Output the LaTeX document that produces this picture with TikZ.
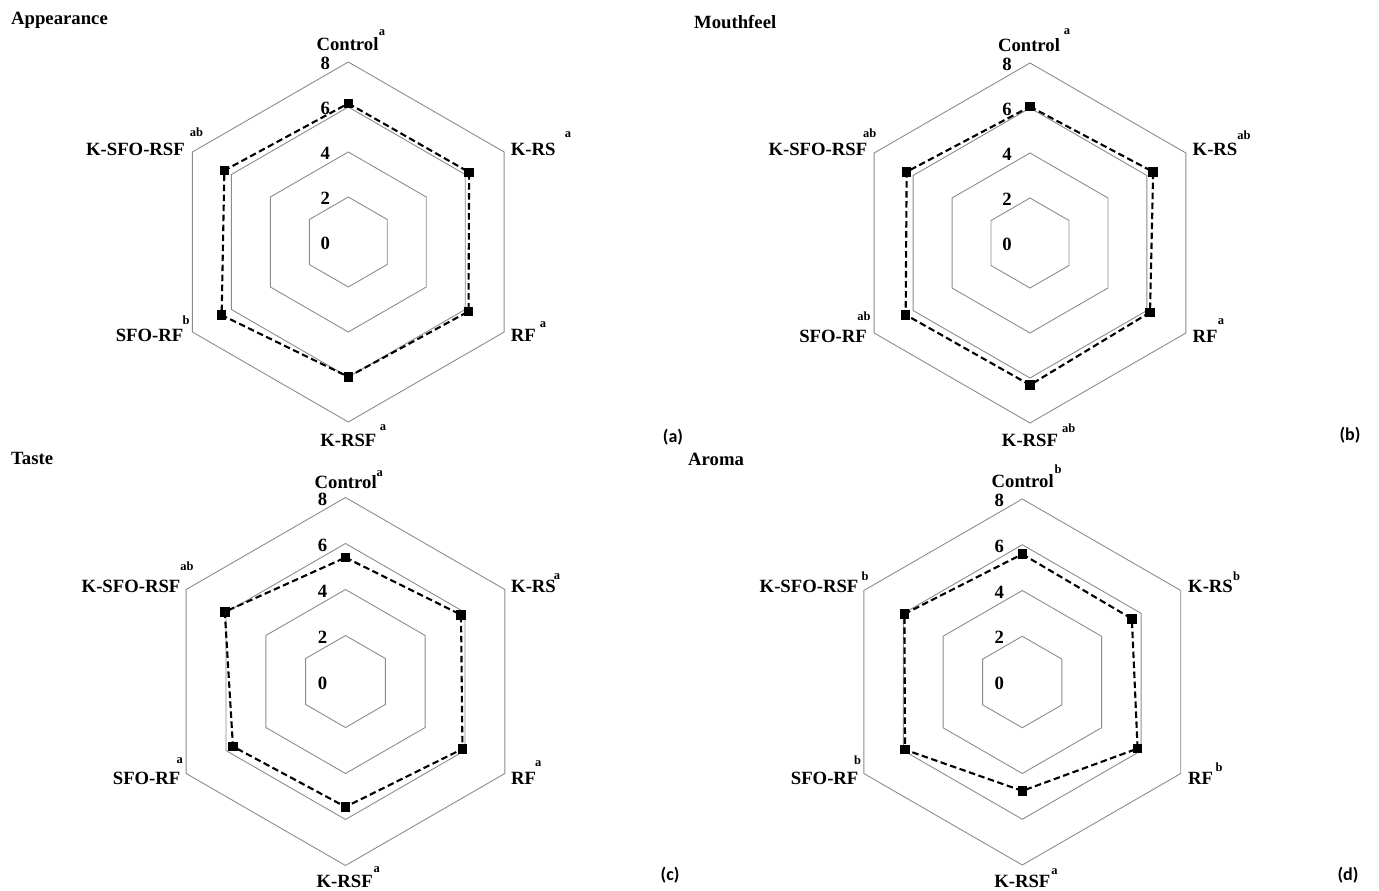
\documentclass[tikz,border=0pt]{standalone}
\usepackage{fontspec}
\setmainfont{Liberation Serif}
\newfontfamily\panelfont{Carlito}
\usetikzlibrary{calc}
\newcommand\labfont{\fontsize{18.7}{20}\selectfont\bfseries}
\newcommand\supfont{\fontsize{12.5}{13}\selectfont\bfseries}
\newcommand\radar[5]{%
  \coordinate (#1c) at (#2,#3);
  \foreach \k in {1,...,4}{%
    \pgfmathsetmacro\rr{#4*\k/4}
    \draw[gridline] ($(#1c)+(-90:\rr)$) -- ($(#1c)+(-30:\rr)$) -- ($(#1c)+(30:\rr)$) -- ($(#1c)+(90:\rr)$) -- ($(#1c)+(150:\rr)$) -- ($(#1c)+(210:\rr)$) -- cycle;
  }
  \foreach \k in {0,...,4}{%
    \pgfmathsetmacro\rr{#4*\k/4}
    \pgfmathtruncatemacro\nn{2*\k}
    \node[numlab] (#1n\k) at ($(#1c)+(-23,-\rr+1.5)$) {\nn};
  }
  \foreach \v [count=\i] in {#5}{%
    \pgfmathsetmacro\ang{-90+60*(\i-1)}
    \pgfmathsetmacro\rv{#4*\v/8}
    \coordinate (#1p\i) at ($(#1c)+(\ang:\rv)$);
  }
  \draw[dataline] (#1p1) -- (#1p2) -- (#1p3) -- (#1p4) -- (#1p5) -- (#1p6) -- cycle;
  \foreach \i in {1,...,6}{\node[marker] (#1m\i) at (#1p\i) {};}
}
\tikzset{
  gridline/.style={draw=black!45, line width=0.9pt, line join=miter},
  dataline/.style={draw=black, line width=2.1pt, dash pattern=on 6.5pt off 3.5pt},
  marker/.style={fill=black, rectangle, minimum size=9.5pt, inner sep=0pt},
  numlab/.style={font=\labfont, inner sep=0pt},
  lab/.style={font=\labfont, inner sep=0pt},
  sup/.style={font=\supfont, inner sep=0pt},
  ttl/.style={font=\labfont, inner sep=0pt, anchor=west},
  panel/.style={font=\panelfont\bfseries\fontsize{18}{20}\selectfont, inner sep=0pt}
}
\begin{document}
\begin{tikzpicture}[x=1pt,y=-1pt]
\useasboundingbox (0,0) rectangle (1379,891);
\fill[white] (0,0) rectangle (1379,891);

% ---------- (a) Appearance ----------
\node[ttl] (ta) at (11,20.7) {Appearance};
\radar{a}{348.3}{242}{180}{6.16,6.2,6.17,5.99,6.5,6.36}
\node[lab] (a1) at (347.5,44) {Control};
\node[sup] (a1s) at (382,33) {a};
\node[lab,anchor=west] (a2) at (510.7,149.5) {K-RS};
\node[sup] (a2s) at (568,135) {a};
\node[lab,anchor=west] (a3) at (510.7,335) {RF};
\node[sup] (a3s) at (543,325) {a};
\node[lab] (a4) at (348.3,440) {K-RSF};
\node[sup] (a4s) at (383,428) {a};
\node[lab,anchor=east] (a5) at (183.5,335) {SFO-RF};
\node[sup] (a5s) at (186,320) {b};
\node[lab,anchor=east] (a6) at (185,149.5) {K-SFO-RSF};
\node[sup] (a6s) at (196.5,132) {ab};
\node[panel] (pa) at (673,436.7) {(a)};

% ---------- (b) Mouthfeel ----------
\node[ttl] (tb) at (694,21.7) {Mouthfeel};
\radar{b}{1030}{243}{180}{6.06,6.32,6.16,6.31,6.38,6.33}
\node[lab] (b1) at (1029,45) {Control};
\node[sup] (b1s) at (1067,31.7) {a};
\node[lab,anchor=west] (b2) at (1192.5,149) {K-RS};
\node[sup] (b2s) at (1244,135) {ab};
\node[lab,anchor=west] (b3) at (1192.5,336.7) {RF};
\node[sup] (b3s) at (1221,321.7) {a};
\node[lab] (b4) at (1030,440) {K-RSF};
\node[sup] (b4s) at (1068.7,428.3) {ab};
\node[lab,anchor=east] (b5) at (867,336.7) {SFO-RF};
\node[sup] (b5s) at (864,316) {ab};
\node[lab,anchor=east] (b6) at (867.4,149) {K-SFO-RSF};
\node[sup] (b6s) at (869.6,133.3) {ab};
\node[panel] (pb) at (1350,435) {(b)};

% ---------- (c) Taste ----------
\node[ttl] (tc) at (11,458.3) {Taste};
\radar{c}{345.5}{681.5}{184}{5.39,5.8,5.87,5.45,5.65,6.06}
\node[lab] (c1) at (345.7,481.7) {Control};
\node[sup] (c1s) at (379.7,473.3) {a};
\node[lab,anchor=west] (c2) at (511,586.7) {K-RS};
\node[sup] (c2s) at (557,576.7) {a};
\node[lab,anchor=west] (c3) at (511,778.3) {RF};
\node[sup] (c3s) at (538.3,764) {a};
\node[lab] (c4) at (344.7,881.7) {K-RSF};
\node[sup] (c4s) at (376.7,870) {a};
\node[lab,anchor=east] (c5) at (180.6,778.3) {SFO-RF};
\node[sup] (c5s) at (179.7,760.7) {a};
\node[lab,anchor=east] (c6) at (180.6,586.7) {K-SFO-RSF};
\node[sup] (c6s) at (187,566.7) {ab};
\node[panel] (pc) at (670,875) {(c)};

% ---------- (d) Aroma ----------
\node[ttl] (td) at (688,459) {Aroma};
\radar{d}{1022.3}{682}{183}{5.59,5.53,5.82,4.76,5.92,5.95}
\node[lab] (d1) at (1022.7,480.7) {Control};
\node[sup] (d1s) at (1058,469.3) {b};
\node[lab,anchor=west] (d2) at (1188,586.7) {K-RS};
\node[sup] (d2s) at (1236.6,576) {b};
\node[lab,anchor=west] (d3) at (1188,778.3) {RF};
\node[sup] (d3s) at (1219,767.3) {b};
\node[lab] (d4) at (1022.3,881.7) {K-RSF};
\node[sup] (d4s) at (1054.6,871.7) {a};
\node[lab,anchor=east] (d5) at (858.6,778.3) {SFO-RF};
\node[sup] (d5s) at (857.7,760.7) {b};
\node[lab,anchor=east] (d6) at (858.6,586.7) {K-SFO-RSF};
\node[sup] (d6s) at (865,576.7) {b};
\node[panel] (pd) at (1348,875) {(d)};
\end{tikzpicture}
\end{document}
